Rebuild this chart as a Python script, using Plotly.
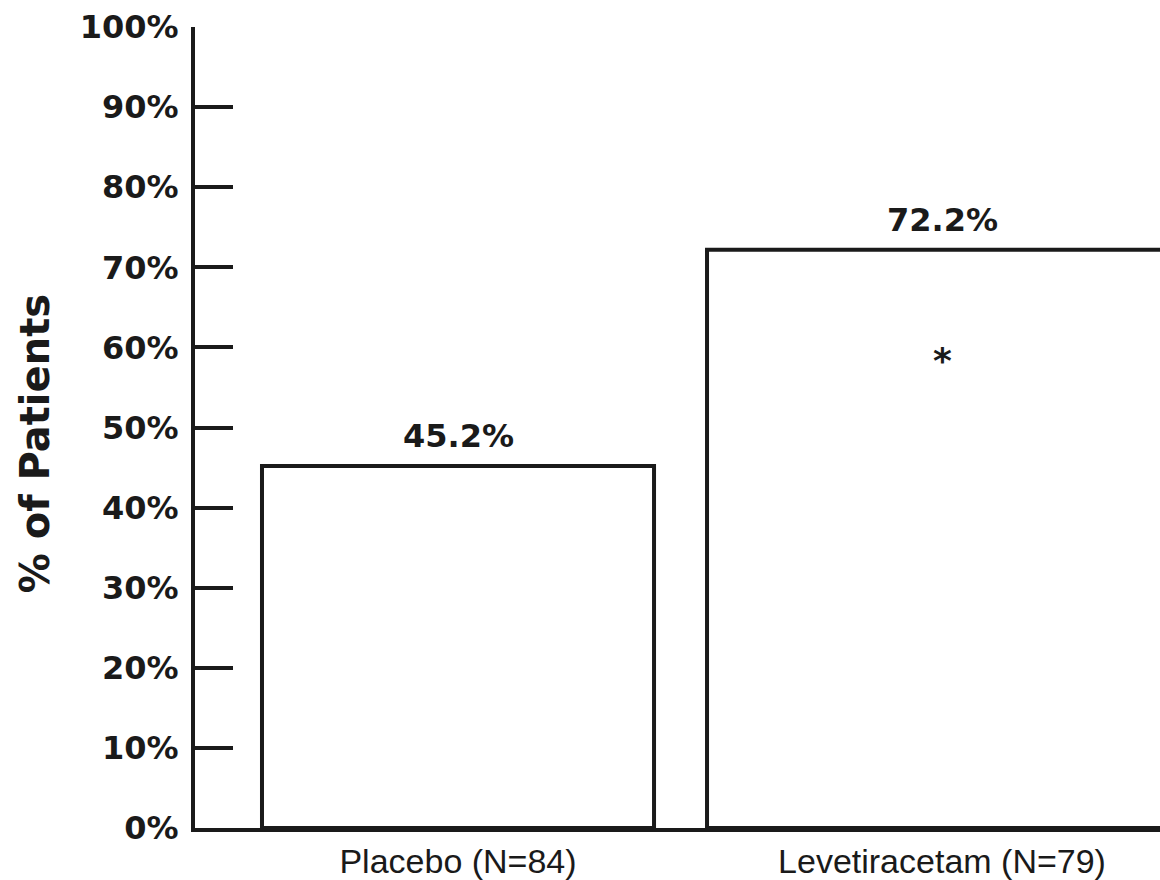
import plotly.graph_objects as go

categories = ["Placebo (N=84)", "Levetiracetam (N=79)"]
values = [45.2, 72.2]
value_labels = ["45.2%", "72.2%"]
y_tick_vals = [0, 10, 20, 30, 40, 50, 60, 70, 80, 90, 100]
y_tick_text = ["0%", "10%", "20%", "30%", "40%", "50%", "60%", "70%", "80%", "90%", "100%"]
significance = ["", "*"]

xpos = [0, 1]
bar_widths = [0.81, 0.971]

fig = go.Figure()
fig.add_trace(go.Bar(
    x=xpos, y=values, width=bar_widths,
    marker=dict(color="white", line=dict(color="#1a1a1a", width=4)),
    showlegend=False, hoverinfo="skip",
))

for xp, v, lab in zip(xpos, values, value_labels):
    fig.add_annotation(x=xp, y=v, text=lab, showarrow=False, yanchor="bottom", yshift=9,
                       font=dict(family="DejaVu Sans", size=32, color="#1a1a1a", weight="bold"))
for xp, s in zip(xpos, significance):
    if s:
        fig.add_annotation(x=xp, y=58.4, text=s, showarrow=False, yanchor="middle",
                           font=dict(family="DejaVu Sans", size=36, color="#1a1a1a", weight="bold"))

fig.add_annotation(xref="paper", yref="paper", x=-0.166, y=0.48, text="% of Patients",
                   textangle=-90, showarrow=False, xanchor="center", yanchor="middle",
                   font=dict(family="DejaVu Sans", size=40, color="#1a1a1a", weight="bold"))

fig.update_layout(
    width=1160, height=880,
    margin=dict(l=195, r=0, t=27, b=52),
    paper_bgcolor="white", plot_bgcolor="white",
    xaxis=dict(range=[-0.5434, 1.4504], tickvals=xpos, ticktext=categories,
               showline=True, linecolor="#1a1a1a", linewidth=4, ticks="",
               showgrid=False, zeroline=False, automargin=False,
               tickfont=dict(family="Liberation Sans", size=34, color="#1a1a1a"),
               ticklabelstandoff=0),
    yaxis=dict(range=[0, 100], tickvals=y_tick_vals, ticktext=y_tick_text,
               showline=True, linecolor="#1a1a1a", linewidth=4,
               ticks="inside", ticklen=38, tickwidth=4, tickcolor="#1a1a1a",
               showgrid=False, zeroline=False, automargin=False,
               tickfont=dict(family="DejaVu Sans", size=32, color="#1a1a1a", weight="bold"),
               ticklabelstandoff=6),
)

fig.write_html("out.html", config={"displayModeBar": False},
               post_script="document.body.style.margin='0';document.body.style.overflow='hidden';")
